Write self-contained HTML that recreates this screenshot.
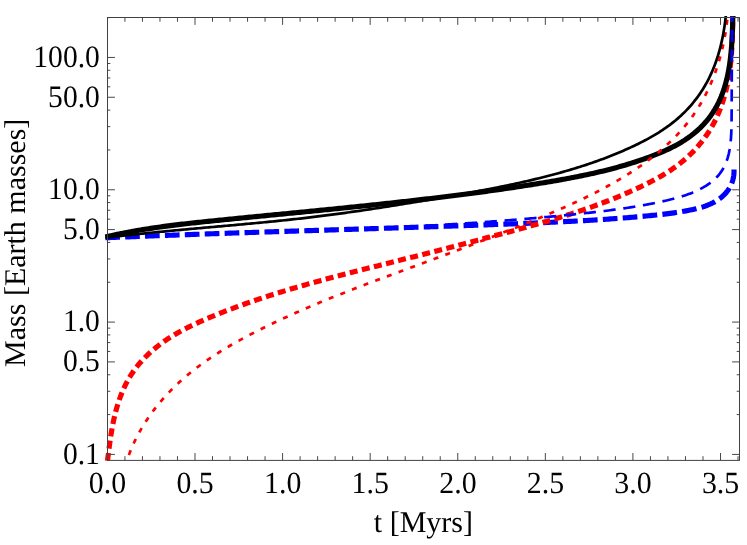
<!DOCTYPE html>
<html><head><meta charset="utf-8"><title>plot</title>
<style>html,body{margin:0;padding:0;background:#fff;}body{width:747px;height:545px;overflow:hidden;font-family:"Liberation Serif",serif;}svg{display:block;}text{font-family:"Liberation Serif",serif;fill:#000;text-rendering:geometricPrecision;}</style></head><body>
<svg width="747" height="545" viewBox="0 0 747 545">
<rect x="0" y="0" width="747" height="545" fill="#ffffff"/>
<defs><clipPath id="clip"><rect x="104" y="16.0" width="640" height="445.2"/></clipPath></defs>
<g clip-path="url(#clip)" fill="none" stroke-linejoin="round">
<path d="M105.40 237.80L107.40 237.72L109.40 237.63L111.39 237.55L113.39 237.47L115.39 237.38L117.38 237.30L119.38 237.22L121.38 237.14L123.38 237.06L125.37 236.97L127.37 236.89L129.37 236.81L131.37 236.73L133.36 236.65L135.36 236.57L137.36 236.50L139.36 236.42L141.35 236.34L143.35 236.26L145.35 236.18L147.34 236.11L149.34 236.03L151.34 235.95L153.34 235.88L155.33 235.80L157.33 235.73L159.33 235.65L161.32 235.58L163.32 235.50L165.32 235.43L167.31 235.35L169.31 235.28L171.31 235.21L173.31 235.13L175.30 235.06L177.30 234.99L179.30 234.91L181.29 234.84L183.29 234.77L185.29 234.70L187.28 234.63L189.28 234.56L191.28 234.49L193.27 234.42L195.27 234.35L197.27 234.27L199.26 234.21L201.26 234.14L203.26 234.07L205.25 234.00L207.25 233.93L209.25 233.86L211.25 233.79L213.24 233.72L215.24 233.65L217.24 233.59L219.23 233.52L221.23 233.45L223.23 233.38L225.22 233.32L227.22 233.25L229.21 233.18L231.21 233.12L233.21 233.05L235.20 232.98L237.20 232.92L239.20 232.85L241.19 232.79L243.19 232.72L245.19 232.66L247.18 232.59L249.18 232.52L251.18 232.46L253.17 232.39L255.17 232.33L257.17 232.27L259.16 232.20L261.16 232.14L263.16 232.07L265.15 232.01L267.15 231.94L269.15 231.88L271.14 231.82L273.14 231.75L275.14 231.69L277.13 231.63L279.13 231.56L281.13 231.50L283.12 231.44L285.12 231.37L287.12 231.31L289.11 231.25L291.11 231.19L293.10 231.12L295.10 231.06L297.10 231.00L299.09 230.93L301.09 230.87L303.09 230.81L305.08 230.75L307.08 230.68L309.08 230.62L311.07 230.56L313.07 230.50L315.07 230.44L317.06 230.37L319.06 230.31L321.06 230.25L323.05 230.19L325.05 230.13L327.05 230.06L329.04 230.00L331.04 229.94L333.04 229.88L335.03 229.82L337.03 229.75L339.03 229.69L341.02 229.63L343.02 229.57L345.02 229.50L347.01 229.44L349.01 229.38L351.01 229.32L353.00 229.26L355.00 229.19L357.00 229.13L358.99 229.07L360.99 229.01L362.99 228.94L364.98 228.88L366.98 228.82L368.98 228.76L370.97 228.69L372.97 228.63L374.97 228.57L376.96 228.51L378.96 228.44L380.96 228.38L382.95 228.32L384.95 228.25L386.95 228.19L388.94 228.13L390.94 228.06L392.94 228.00L394.94 227.94L396.93 227.87L398.93 227.81L400.93 227.74L402.92 227.68L404.92 227.62L406.92 227.55L408.91 227.49L410.91 227.42L412.91 227.36L414.91 227.29L416.90 227.23L418.90 227.16L420.90 227.10L422.89 227.03L424.89 226.96L426.89 226.90L428.89 226.83L430.88 226.77L432.88 226.70L434.88 226.63L436.87 226.57L438.87 226.50L440.87 226.43L442.87 226.37L444.86 226.30L446.86 226.23L448.86 226.16L450.86 226.09L452.85 226.03L454.85 225.96L456.85 225.89L458.85 225.82L460.84 225.75L462.84 225.68L464.84 225.61L466.84 225.54L468.83 225.47L470.83 225.40L472.83 225.33L474.83 225.26L476.82 225.19L478.82 225.12L480.82 225.05L482.82 224.97L484.82 224.90L486.81 224.83L488.81 224.76L490.81 224.68L492.81 224.61L494.80 224.54L496.80 224.46L498.80 224.39L500.80 224.31L502.80 224.24L504.80 224.17L506.79 224.09L508.79 224.01L510.79 223.94L512.79 223.86L514.79 223.79L516.78 223.71L518.78 223.63L520.78 223.55L522.78 223.48L524.78 223.40L526.78 223.32L528.77 223.24L530.77 223.16L532.77 223.07L534.77 222.99L536.77 222.91L538.76 222.82L540.76 222.74L542.76 222.65L544.76 222.57L546.75 222.48L548.75 222.39L550.75 222.30L552.75 222.21L554.74 222.12L556.74 222.03L558.74 221.93L560.73 221.84L562.73 221.74L564.73 221.64L566.72 221.54L568.72 221.44L570.72 221.34L572.71 221.23L574.71 221.13L576.70 221.02L578.70 220.91L580.69 220.80L582.69 220.69L584.68 220.58L586.68 220.46L588.67 220.34L590.66 220.22L592.66 220.10L594.65 219.98L596.64 219.86L598.64 219.73L600.63 219.60L602.62 219.47L604.61 219.34L606.61 219.20L608.60 219.06L610.59 218.92L612.58 218.78L614.57 218.64L616.56 218.49L618.55 218.34L620.54 218.19L622.53 218.04L624.51 217.88L626.50 217.72L628.49 217.56L630.48 217.40L632.47 217.23L634.45 217.06L636.44 216.89L638.42 216.72L640.41 216.54L642.39 216.36L644.38 216.18L646.36 215.99L648.35 215.80L650.33 215.61L652.31 215.41L654.29 215.21L656.28 215.01L658.26 214.80L660.24 214.58L662.22 214.36L664.20 214.13L666.18 213.89L668.17 213.65L670.15 213.39L672.13 213.12L674.11 212.84L676.09 212.55L678.08 212.24L680.06 211.92L682.04 211.59L684.03 211.24L686.01 210.88L688.00 210.50L689.98 210.10L691.97 209.68L693.95 209.24L695.93 208.78L697.90 208.28L699.86 207.76L701.80 207.19L703.72 206.59L705.62 205.94L707.50 205.24L709.34 204.49L711.15 203.68L712.93 202.81L714.67 201.88L716.36 200.89L718.01 199.82L719.60 198.69L721.14 197.49L722.62 196.22L724.03 194.88L725.37 193.48L726.63 192.00L727.80 190.46L728.90 188.86L729.89 187.18L730.80 185.45L731.60 183.65L732.30 181.79L732.88 179.87L733.35 177.89L733.70 175.87L733.93 173.79L734.03 171.67L734.00 169.50" stroke="#0000ff" stroke-width="5.15" stroke-dasharray="14.7 5.22" stroke-dashoffset="0.2"/>
<path d="M107.50 460.80L107.74 458.87L107.98 456.93L108.23 454.99L108.47 453.03L108.72 451.07L108.97 449.11L109.23 447.13L109.49 445.16L109.76 443.17L110.04 441.19L110.32 439.20L110.62 437.21L110.93 435.22L111.25 433.22L111.58 431.23L111.92 429.24L112.28 427.25L112.65 425.26L113.04 423.27L113.45 421.29L113.87 419.31L114.32 417.33L114.78 415.37L115.26 413.40L115.77 411.45L116.29 409.50L116.84 407.56L117.41 405.63L118.00 403.70L118.62 401.79L119.26 399.89L119.93 398.00L120.62 396.13L121.33 394.26L122.08 392.41L122.85 390.58L123.64 388.76L124.47 386.95L125.33 385.16L126.21 383.39L127.13 381.64L128.07 379.91L129.05 378.19L130.06 376.50L131.10 374.83L132.17 373.18L133.28 371.55L134.42 369.94L135.59 368.35L136.79 366.79L138.02 365.24L139.29 363.72L140.58 362.23L141.89 360.75L143.24 359.29L144.61 357.86L146.00 356.45L147.42 355.06L148.86 353.69L150.33 352.34L151.82 351.02L153.33 349.72L154.86 348.43L156.40 347.17L157.97 345.94L159.56 344.72L161.16 343.52L162.77 342.35L164.41 341.20L166.06 340.07L167.72 338.96L169.39 337.87L171.08 336.80L172.78 335.75L174.49 334.72L176.22 333.71L177.95 332.71L179.70 331.74L181.45 330.78L183.21 329.84L184.99 328.91L186.77 327.99L188.56 327.09L190.36 326.21L192.16 325.34L193.97 324.48L195.79 323.63L197.61 322.79L199.44 321.96L201.27 321.15L203.11 320.34L204.95 319.54L206.79 318.75L208.64 317.97L210.49 317.19L212.34 316.42L214.20 315.66L216.05 314.90L217.91 314.15L219.77 313.40L221.63 312.66L223.49 311.93L225.35 311.20L227.22 310.48L229.09 309.76L230.96 309.05L232.83 308.35L234.70 307.64L236.57 306.95L238.45 306.26L240.33 305.58L242.20 304.90L244.08 304.22L245.97 303.55L247.85 302.89L249.73 302.23L251.62 301.58L253.51 300.93L255.40 300.28L257.29 299.64L259.18 299.00L261.07 298.37L262.97 297.75L264.86 297.12L266.76 296.51L268.66 295.89L270.56 295.28L272.46 294.68L274.36 294.07L276.27 293.48L278.17 292.88L280.08 292.29L281.98 291.70L283.89 291.12L285.80 290.54L287.71 289.97L289.62 289.39L291.53 288.82L293.44 288.26L295.36 287.70L297.27 287.14L299.19 286.58L301.11 286.03L303.02 285.48L304.94 284.93L306.86 284.39L308.78 283.85L310.70 283.31L312.63 282.77L314.55 282.24L316.47 281.71L318.40 281.18L320.32 280.65L322.25 280.13L324.17 279.61L326.10 279.09L328.03 278.57L329.96 278.06L331.89 277.54L333.82 277.03L335.75 276.52L337.68 276.01L339.61 275.51L341.54 275.00L343.47 274.50L345.40 274.00L347.34 273.50L349.27 273.00L351.20 272.50L353.14 272.01L355.07 271.51L357.01 271.02L358.94 270.53L360.88 270.04L362.81 269.54L364.75 269.05L366.69 268.57L368.62 268.08L370.56 267.59L372.50 267.10L374.43 266.61L376.37 266.13L378.31 265.64L380.24 265.16L382.18 264.67L384.12 264.19L386.06 263.70L387.99 263.21L389.93 262.73L391.87 262.24L393.81 261.76L395.74 261.27L397.68 260.79L399.62 260.30L401.55 259.81L403.49 259.32L405.43 258.84L407.36 258.35L409.30 257.86L411.24 257.37L413.17 256.88L415.11 256.39L417.04 255.90L418.98 255.40L420.91 254.91L422.85 254.42L424.79 253.92L426.72 253.43L428.65 252.94L430.59 252.44L432.52 251.95L434.46 251.45L436.39 250.95L438.33 250.45L440.26 249.96L442.19 249.46L444.13 248.96L446.06 248.46L448.00 247.96L449.93 247.46L451.86 246.96L453.80 246.46L455.73 245.96L457.66 245.45L459.59 244.95L461.53 244.45L463.46 243.94L465.39 243.44L467.32 242.93L469.25 242.43L471.19 241.92L473.12 241.41L475.05 240.90L476.98 240.40L478.91 239.89L480.84 239.38L482.78 238.87L484.71 238.36L486.64 237.85L488.57 237.34L490.50 236.83L492.43 236.31L494.36 235.80L496.29 235.29L498.22 234.77L500.15 234.26L502.08 233.74L504.01 233.23L505.94 232.71L507.87 232.19L509.80 231.68L511.73 231.16L513.65 230.63L515.58 230.11L517.51 229.59L519.44 229.06L521.36 228.54L523.29 228.01L525.21 227.48L527.14 226.94L529.06 226.41L530.99 225.87L532.91 225.33L534.83 224.79L536.75 224.24L538.67 223.69L540.59 223.14L542.51 222.59L544.42 222.03L546.34 221.47L548.25 220.91L550.17 220.35L552.08 219.78L553.99 219.20L555.90 218.63L557.81 218.04L559.72 217.46L561.62 216.87L563.53 216.28L565.43 215.68L567.33 215.08L569.23 214.47L571.13 213.86L573.03 213.25L574.93 212.63L576.82 212.00L578.71 211.37L580.60 210.74L582.49 210.10L584.38 209.45L586.26 208.80L588.15 208.15L590.03 207.49L591.91 206.82L593.79 206.14L595.66 205.46L597.53 204.78L599.40 204.09L601.27 203.39L603.14 202.68L605.00 201.97L606.87 201.25L608.73 200.53L610.58 199.80L612.44 199.06L614.29 198.31L616.14 197.56L617.99 196.80L619.84 196.03L621.68 195.26L623.52 194.48L625.35 193.69L627.19 192.89L629.02 192.08L630.85 191.27L632.68 190.44L634.50 189.61L636.32 188.77L638.14 187.93L639.95 187.07L641.76 186.21L643.57 185.33L645.38 184.45L647.18 183.55L648.97 182.65L650.76 181.73L652.54 180.80L654.31 179.86L656.08 178.91L657.83 177.94L659.58 176.95L661.32 175.95L663.05 174.94L664.76 173.91L666.46 172.86L668.15 171.79L669.83 170.71L671.49 169.60L673.14 168.48L674.77 167.33L676.38 166.17L677.98 164.98L679.56 163.77L681.12 162.54L682.66 161.28L684.19 160.00L685.69 158.70L687.17 157.37L688.63 156.02L690.07 154.65L691.49 153.26L692.89 151.84L694.26 150.41L695.61 148.95L696.94 147.47L698.25 145.97L699.53 144.45L700.79 142.91L702.02 141.35L703.23 139.77L704.41 138.18L705.57 136.56L706.70 134.93L707.81 133.28L708.89 131.61L709.94 129.92L710.97 128.22L711.96 126.50L712.93 124.77L713.87 123.02L714.78 121.25L715.67 119.47L716.52 117.67L717.35 115.86L718.15 114.04L718.93 112.20L719.67 110.36L720.39 108.50L721.09 106.63L721.76 104.74L722.40 102.85L723.02 100.95L723.62 99.04L724.19 97.12L724.74 95.19L725.26 93.25L725.76 91.30L726.24 89.35L726.70 87.40L727.13 85.43L727.54 83.46L727.94 81.49L728.31 79.51L728.66 77.53L728.99 75.54L729.30 73.55L729.59 71.56L729.87 69.57L730.12 67.57L730.36 65.58L730.59 63.58L730.79 61.58L730.99 59.58L731.16 57.58L731.33 55.58L731.48 53.57L731.62 51.57L731.75 49.57L731.87 47.57L731.98 45.57L732.07 43.57L732.17 41.57L732.25 39.57L732.32 37.58L732.39 35.58L732.46 33.59L732.52 31.60L732.57 29.61L732.62 27.63L732.67 25.65L732.72 23.67L732.76 21.70L732.81 19.73L732.85 17.76L732.90 15.80" stroke="#ff0000" stroke-width="5.15" stroke-dasharray="8.0 4.45" stroke-dashoffset="0.18"/>
<path d="M105.40 237.00L107.35 236.54L109.30 236.09L111.26 235.65L113.21 235.22L115.17 234.80L117.13 234.38L119.09 233.97L121.04 233.57L123.01 233.18L124.97 232.79L126.93 232.41L128.89 232.04L130.86 231.68L132.83 231.32L134.79 230.97L136.76 230.62L138.73 230.29L140.70 229.95L142.67 229.63L144.64 229.31L146.62 228.99L148.59 228.69L150.56 228.38L152.54 228.09L154.51 227.79L156.49 227.51L158.47 227.22L160.45 226.95L162.42 226.67L164.40 226.41L166.38 226.14L168.36 225.88L170.35 225.63L172.33 225.38L174.31 225.13L176.29 224.88L178.28 224.64L180.26 224.41L182.24 224.17L184.23 223.94L186.21 223.71L188.20 223.49L190.19 223.26L192.17 223.04L194.16 222.83L196.15 222.61L198.14 222.40L200.12 222.19L202.11 221.98L204.10 221.77L206.09 221.56L208.08 221.36L210.07 221.15L212.06 220.95L214.04 220.75L216.03 220.54L218.02 220.34L220.01 220.14L222.00 219.94L223.99 219.74L225.98 219.54L227.97 219.34L229.96 219.15L231.95 218.95L233.94 218.75L235.93 218.55L237.92 218.36L239.91 218.16L241.90 217.96L243.89 217.77L245.88 217.57L247.88 217.38L249.87 217.18L251.86 216.98L253.85 216.79L255.84 216.59L257.83 216.40L259.82 216.21L261.81 216.01L263.80 215.82L265.79 215.62L267.78 215.43L269.77 215.24L271.76 215.04L273.76 214.85L275.75 214.65L277.74 214.46L279.73 214.27L281.72 214.07L283.71 213.88L285.70 213.69L287.69 213.49L289.68 213.30L291.68 213.10L293.67 212.91L295.66 212.72L297.65 212.52L299.64 212.33L301.63 212.13L303.62 211.94L305.61 211.74L307.60 211.55L309.59 211.35L311.58 211.16L313.58 210.96L315.57 210.77L317.56 210.57L319.55 210.37L321.54 210.18L323.53 209.98L325.52 209.78L327.51 209.58L329.50 209.38L331.49 209.19L333.48 208.99L335.47 208.79L337.46 208.59L339.45 208.39L341.44 208.19L343.43 207.99L345.42 207.78L347.41 207.58L349.40 207.38L351.39 207.18L353.38 206.97L355.37 206.77L357.36 206.56L359.35 206.36L361.34 206.15L363.33 205.95L365.32 205.74L367.31 205.53L369.30 205.32L371.29 205.11L373.28 204.90L375.27 204.69L377.25 204.48L379.24 204.27L381.23 204.06L383.22 203.84L385.21 203.63L387.20 203.41L389.18 203.20L391.17 202.98L393.16 202.76L395.15 202.55L397.14 202.33L399.12 202.11L401.11 201.89L403.10 201.66L405.08 201.44L407.07 201.22L409.06 200.99L411.04 200.77L413.03 200.54L415.02 200.31L417.00 200.08L418.99 199.85L420.98 199.62L422.96 199.39L424.95 199.16L426.93 198.93L428.92 198.69L430.90 198.45L432.89 198.22L434.87 197.98L436.86 197.74L438.84 197.50L440.82 197.26L442.81 197.01L444.79 196.77L446.78 196.52L448.76 196.28L450.74 196.03L452.73 195.78L454.71 195.53L456.69 195.28L458.67 195.02L460.66 194.77L462.64 194.51L464.62 194.26L466.60 194.00L468.58 193.74L470.56 193.48L472.55 193.21L474.53 192.95L476.51 192.68L478.49 192.42L480.47 192.15L482.45 191.88L484.43 191.61L486.41 191.33L488.39 191.06L490.36 190.78L492.34 190.50L494.32 190.22L496.30 189.94L498.28 189.66L500.26 189.38L502.23 189.09L504.21 188.80L506.19 188.51L508.16 188.22L510.14 187.93L512.12 187.63L514.09 187.34L516.07 187.04L518.04 186.74L520.02 186.44L521.99 186.14L523.97 185.83L525.94 185.52L527.92 185.22L529.89 184.91L531.86 184.59L533.84 184.28L535.81 183.96L537.78 183.64L539.75 183.32L541.73 183.00L543.70 182.68L545.67 182.35L547.64 182.02L549.61 181.69L551.58 181.36L553.55 181.02L555.52 180.68L557.49 180.34L559.45 179.99L561.42 179.64L563.39 179.28L565.35 178.93L567.32 178.56L569.28 178.20L571.24 177.83L573.20 177.45L575.16 177.07L577.12 176.68L579.08 176.29L581.04 175.89L583.00 175.49L584.95 175.09L586.91 174.67L588.86 174.25L590.81 173.83L592.76 173.39L594.71 172.96L596.66 172.51L598.60 172.06L600.55 171.60L602.49 171.13L604.43 170.66L606.37 170.18L608.31 169.69L610.24 169.19L612.18 168.69L614.11 168.17L616.04 167.65L617.97 167.12L619.90 166.58L621.82 166.03L623.75 165.48L625.67 164.91L627.59 164.33L629.50 163.75L631.42 163.15L633.33 162.55L635.24 161.93L637.15 161.31L639.06 160.67L640.96 160.02L642.86 159.37L644.76 158.70L646.66 158.02L648.55 157.33L650.44 156.62L652.33 155.91L654.21 155.18L656.09 154.44L657.97 153.69L659.83 152.92L661.69 152.13L663.55 151.33L665.39 150.51L667.22 149.67L669.04 148.81L670.85 147.93L672.64 147.03L674.43 146.11L676.19 145.17L677.94 144.20L679.68 143.21L681.39 142.19L683.09 141.15L684.77 140.08L686.42 138.98L688.06 137.85L689.67 136.70L691.26 135.51L692.82 134.30L694.36 133.06L695.87 131.78L697.36 130.48L698.82 129.15L700.25 127.80L701.65 126.41L703.02 125.00L704.36 123.55L705.66 122.08L706.94 120.58L708.18 119.06L709.38 117.50L710.55 115.92L711.69 114.31L712.78 112.67L713.85 111.01L714.87 109.33L715.87 107.62L716.82 105.89L717.74 104.13L718.63 102.36L719.48 100.56L720.29 98.75L721.07 96.91L721.82 95.06L722.53 93.19L723.20 91.31L723.85 89.41L724.46 87.49L725.05 85.56L725.60 83.62L726.13 81.67L726.62 79.70L727.09 77.72L727.54 75.74L727.96 73.74L728.35 71.74L728.72 69.73L729.07 67.72L729.40 65.69L729.70 63.67L729.98 61.64L730.25 59.60L730.50 57.57L730.72 55.53L730.94 53.50L731.13 51.46L731.31 49.42L731.48 47.39L731.63 45.36L731.77 43.33L731.89 41.31L732.01 39.29L732.12 37.28L732.21 35.28L732.30 33.28L732.38 31.29L732.46 29.31L732.52 27.35L732.59 25.39L732.64 23.44L732.70 21.51L732.75 19.59L732.80 17.69L732.85 15.80" stroke="#000000" stroke-width="5.15"/>
<path d="M105.40 237.80L107.40 237.71L109.40 237.62L111.40 237.54L113.39 237.45L115.39 237.36L117.39 237.28L119.39 237.19L121.39 237.11L123.39 237.03L125.38 236.94L127.38 236.86L129.38 236.78L131.38 236.70L133.38 236.62L135.38 236.54L137.38 236.46L139.37 236.38L141.37 236.31L143.37 236.23L145.37 236.15L147.37 236.08L149.37 236.00L151.37 235.93L153.36 235.85L155.36 235.78L157.36 235.71L159.36 235.63L161.36 235.56L163.36 235.49L165.36 235.42L167.35 235.35L169.35 235.28L171.35 235.21L173.35 235.14L175.35 235.07L177.35 235.00L179.35 234.93L181.34 234.86L183.34 234.79L185.34 234.73L187.34 234.66L189.34 234.59L191.34 234.53L193.34 234.46L195.33 234.39L197.33 234.33L199.33 234.26L201.33 234.20L203.33 234.13L205.33 234.07L207.33 234.00L209.32 233.94L211.32 233.87L213.32 233.81L215.32 233.75L217.32 233.68L219.32 233.62L221.32 233.56L223.31 233.49L225.31 233.43L227.31 233.37L229.31 233.30L231.31 233.24L233.31 233.18L235.31 233.12L237.30 233.05L239.30 232.99L241.30 232.93L243.30 232.86L245.30 232.80L247.30 232.74L249.29 232.68L251.29 232.61L253.29 232.55L255.29 232.49L257.29 232.43L259.29 232.36L261.28 232.30L263.28 232.24L265.28 232.17L267.28 232.11L269.28 232.05L271.28 231.98L273.28 231.92L275.27 231.86L277.27 231.79L279.27 231.73L281.27 231.66L283.27 231.60L285.26 231.54L287.26 231.47L289.26 231.41L291.26 231.34L293.26 231.27L295.26 231.21L297.25 231.14L299.25 231.07L301.25 231.01L303.25 230.94L305.25 230.87L307.24 230.81L309.24 230.74L311.24 230.67L313.24 230.60L315.24 230.53L317.24 230.46L319.23 230.39L321.23 230.32L323.23 230.25L325.23 230.18L327.22 230.11L329.22 230.03L331.22 229.96L333.22 229.89L335.22 229.81L337.21 229.74L339.21 229.66L341.21 229.59L343.21 229.51L345.21 229.44L347.20 229.36L349.20 229.28L351.20 229.20L353.20 229.12L355.19 229.04L357.19 228.96L359.19 228.88L361.19 228.80L363.18 228.72L365.18 228.64L367.18 228.56L369.18 228.47L371.17 228.39L373.17 228.30L375.17 228.22L377.17 228.13L379.16 228.04L381.16 227.95L383.16 227.86L385.16 227.77L387.15 227.68L389.15 227.59L391.15 227.50L393.14 227.41L395.14 227.31L397.14 227.22L399.14 227.12L401.13 227.03L403.13 226.93L405.13 226.83L407.12 226.73L409.12 226.63L411.12 226.53L413.11 226.43L415.11 226.33L417.11 226.22L419.10 226.12L421.10 226.01L423.10 225.91L425.09 225.80L427.09 225.69L429.09 225.58L431.08 225.47L433.08 225.36L435.08 225.25L437.07 225.13L439.07 225.02L441.07 224.90L443.06 224.78L445.06 224.67L447.06 224.55L449.05 224.43L451.05 224.30L453.04 224.18L455.04 224.06L457.04 223.93L459.03 223.81L461.03 223.68L463.03 223.55L465.02 223.42L467.02 223.29L469.01 223.16L471.01 223.02L473.00 222.89L475.00 222.75L477.00 222.62L478.99 222.48L480.99 222.34L482.98 222.20L484.98 222.05L486.97 221.91L488.97 221.76L490.97 221.62L492.96 221.47L494.96 221.32L496.95 221.17L498.95 221.02L500.94 220.86L502.94 220.71L504.93 220.55L506.93 220.40L508.92 220.24L510.92 220.08L512.91 219.92L514.91 219.75L516.90 219.59L518.89 219.42L520.89 219.26L522.88 219.09L524.88 218.92L526.87 218.75L528.86 218.58L530.86 218.40L532.85 218.23L534.84 218.05L536.83 217.88L538.83 217.70L540.82 217.52L542.81 217.34L544.80 217.15L546.79 216.97L548.78 216.79L550.77 216.60L552.77 216.41L554.76 216.22L556.75 216.03L558.74 215.84L560.72 215.65L562.71 215.46L564.70 215.26L566.69 215.07L568.68 214.87L570.67 214.67L572.65 214.47L574.64 214.27L576.63 214.07L578.61 213.86L580.60 213.66L582.59 213.45L584.57 213.24L586.56 213.02L588.54 212.81L590.52 212.59L592.51 212.37L594.49 212.14L596.47 211.92L598.45 211.68L600.44 211.45L602.42 211.21L604.40 210.97L606.38 210.72L608.36 210.47L610.34 210.22L612.32 209.96L614.29 209.70L616.27 209.43L618.25 209.16L620.23 208.88L622.20 208.59L624.18 208.30L626.15 208.01L628.13 207.71L630.10 207.40L632.07 207.09L634.05 206.77L636.02 206.45L637.99 206.12L639.96 205.78L641.93 205.43L643.90 205.08L645.87 204.72L647.84 204.35L649.81 203.98L651.77 203.60L653.74 203.21L655.70 202.81L657.67 202.41L659.63 201.99L661.60 201.57L663.56 201.14L665.52 200.70L667.48 200.25L669.44 199.78L671.39 199.30L673.34 198.81L675.28 198.30L677.22 197.77L679.15 197.22L681.08 196.65L682.99 196.05L684.89 195.43L686.79 194.78L688.67 194.10L690.54 193.39L692.40 192.65L694.24 191.87L696.07 191.06L697.88 190.21L699.68 189.32L701.45 188.40L703.21 187.43L704.95 186.41L706.65 185.35L708.32 184.25L709.95 183.09L711.54 181.89L713.08 180.63L714.56 179.32L715.99 177.95L717.35 176.52L718.64 175.04L719.87 173.50L721.02 171.91L722.11 170.26L723.12 168.57L724.07 166.84L724.94 165.07L725.75 163.26L726.48 161.41L727.15 159.53L727.74 157.63L728.28 155.70L728.76 153.75L729.18 151.78L729.56 149.80L729.89 147.81L730.17 145.80L730.42 143.79L730.64 141.78L730.83 139.77L730.99 137.77L731.12 135.76L731.23 133.75L731.33 131.75L731.40 129.74L731.46 127.74L731.51 125.74L731.54 123.73L731.57 121.73L731.58 119.73L731.60 117.73L731.61 115.73L731.62 113.73L731.63 111.73L731.64 109.74L731.65 107.74L731.66 105.74L731.67 103.74L731.68 101.75L731.69 99.75L731.70 97.75L731.70 95.76L731.71 93.76L731.72 91.77L731.73 89.77L731.74 87.78L731.75 85.78L731.76 83.79L731.77 81.79L731.78 79.80L731.79 77.80L731.80 75.80L731.81 73.81L731.82 71.81L731.83 69.82L731.85 67.82L731.86 65.83L731.87 63.83L731.88 61.83L731.89 59.84L731.90 57.84L731.91 55.84L731.92 53.85L731.94 51.85L731.95 49.85L731.96 47.85L731.97 45.85L731.99 43.85L732.00 41.85L732.01 39.85L732.03 37.85L732.04 35.85L732.06 33.85L732.07 31.85L732.09 29.84L732.10 27.84L732.12 25.83L732.13 23.83L732.15 21.82L732.17 19.82L732.18 17.81L732.20 15.80" stroke="#0000ff" stroke-width="2.7" stroke-dasharray="12.2 7.7" stroke-dashoffset="18.37"/>
<path d="M126.80 461.00L127.44 459.07L128.11 457.16L128.79 455.26L129.51 453.36L130.24 451.48L130.99 449.61L131.77 447.76L132.57 445.91L133.39 444.08L134.23 442.26L135.09 440.45L135.98 438.65L136.88 436.86L137.81 435.09L138.75 433.32L139.71 431.57L140.70 429.84L141.70 428.11L142.72 426.39L143.76 424.69L144.82 423.00L145.90 421.32L146.99 419.66L148.11 418.01L149.24 416.36L150.38 414.74L151.55 413.12L152.73 411.52L153.93 409.92L155.14 408.35L156.37 406.78L157.62 405.23L158.88 403.68L160.15 402.16L161.44 400.64L162.75 399.14L164.07 397.65L165.40 396.17L166.75 394.70L168.11 393.25L169.49 391.81L170.88 390.39L172.28 388.97L173.69 387.57L175.12 386.19L176.56 384.81L178.01 383.45L179.47 382.10L180.94 380.77L182.43 379.45L183.92 378.14L185.43 376.84L186.95 375.56L188.47 374.29L190.01 373.03L191.56 371.78L193.12 370.55L194.68 369.32L196.26 368.11L197.85 366.91L199.44 365.72L201.05 364.54L202.66 363.37L204.28 362.22L205.91 361.07L207.55 359.93L209.19 358.81L210.85 357.69L212.51 356.59L214.17 355.49L215.85 354.40L217.53 353.33L219.22 352.26L220.92 351.20L222.62 350.15L224.33 349.11L226.04 348.07L227.76 347.05L229.49 346.03L231.22 345.02L232.96 344.02L234.70 343.03L236.45 342.05L238.20 341.07L239.95 340.10L241.71 339.14L243.48 338.18L245.25 337.23L247.02 336.29L248.79 335.35L250.57 334.42L252.35 333.50L254.14 332.58L255.93 331.67L257.72 330.76L259.51 329.86L261.30 328.96L263.10 328.07L264.90 327.19L266.70 326.30L268.50 325.43L270.31 324.56L272.11 323.69L273.92 322.83L275.73 321.97L277.54 321.12L279.35 320.27L281.17 319.43L282.98 318.59L284.80 317.75L286.62 316.92L288.44 316.09L290.26 315.27L292.09 314.45L293.91 313.64L295.74 312.83L297.57 312.02L299.40 311.22L301.23 310.42L303.06 309.62L304.89 308.83L306.73 308.04L308.57 307.26L310.40 306.47L312.24 305.70L314.08 304.92L315.92 304.15L317.77 303.38L319.61 302.61L321.46 301.85L323.30 301.09L325.15 300.34L327.00 299.58L328.85 298.83L330.70 298.08L332.55 297.34L334.40 296.59L336.25 295.85L338.11 295.11L339.96 294.38L341.82 293.65L343.68 292.91L345.53 292.19L347.39 291.46L349.25 290.73L351.11 290.01L352.97 289.29L354.84 288.57L356.70 287.86L358.56 287.14L360.43 286.43L362.29 285.71L364.16 285.00L366.02 284.30L367.89 283.59L369.75 282.88L371.62 282.18L373.49 281.48L375.36 280.77L377.23 280.07L379.10 279.37L380.97 278.67L382.84 277.98L384.71 277.28L386.58 276.58L388.45 275.89L390.32 275.19L392.19 274.50L394.07 273.81L395.94 273.11L397.81 272.42L399.68 271.73L401.56 271.04L403.43 270.35L405.30 269.66L407.18 268.96L409.05 268.27L410.92 267.58L412.80 266.89L414.67 266.20L416.54 265.51L418.42 264.82L420.29 264.13L422.16 263.43L424.04 262.74L425.91 262.05L427.78 261.35L429.66 260.66L431.53 259.96L433.40 259.27L435.27 258.57L437.15 257.88L439.02 257.18L440.89 256.48L442.76 255.78L444.63 255.08L446.50 254.38L448.37 253.67L450.24 252.97L452.11 252.26L453.98 251.56L455.85 250.85L457.72 250.14L459.59 249.44L461.45 248.73L463.32 248.01L465.19 247.30L467.06 246.59L468.92 245.88L470.79 245.16L472.65 244.45L474.52 243.73L476.38 243.01L478.25 242.29L480.11 241.57L481.98 240.85L483.84 240.13L485.70 239.40L487.57 238.68L489.43 237.95L491.29 237.23L493.15 236.50L495.01 235.77L496.87 235.04L498.73 234.31L500.59 233.57L502.45 232.84L504.31 232.11L506.17 231.37L508.02 230.63L509.88 229.89L511.74 229.15L513.59 228.41L515.45 227.67L517.30 226.92L519.16 226.18L521.01 225.43L522.86 224.68L524.72 223.94L526.57 223.18L528.42 222.43L530.27 221.68L532.12 220.93L533.97 220.17L535.82 219.41L537.67 218.65L539.51 217.89L541.36 217.13L543.21 216.36L545.05 215.59L546.89 214.82L548.73 214.04L550.57 213.27L552.41 212.48L554.25 211.70L556.08 210.91L557.92 210.12L559.75 209.33L561.58 208.53L563.41 207.72L565.23 206.91L567.06 206.10L568.88 205.28L570.70 204.46L572.52 203.64L574.33 202.80L576.14 201.97L577.95 201.12L579.76 200.28L581.57 199.42L583.37 198.56L585.17 197.69L586.96 196.82L588.76 195.94L590.55 195.06L592.33 194.16L594.12 193.26L595.90 192.36L597.67 191.44L599.45 190.52L601.22 189.59L602.98 188.66L604.75 187.71L606.50 186.76L608.26 185.80L610.01 184.83L611.76 183.85L613.50 182.87L615.24 181.87L616.97 180.87L618.70 179.85L620.43 178.83L622.15 177.80L623.87 176.76L625.58 175.71L627.28 174.65L628.98 173.57L630.68 172.49L632.36 171.40L634.04 170.30L635.72 169.19L637.38 168.07L639.04 166.93L640.69 165.79L642.33 164.63L643.97 163.47L645.59 162.29L647.21 161.11L648.81 159.91L650.41 158.70L651.99 157.48L653.57 156.24L655.13 155.00L656.69 153.74L658.23 152.47L659.76 151.19L661.28 149.90L662.79 148.60L664.28 147.28L665.77 145.95L667.24 144.61L668.69 143.25L670.13 141.89L671.56 140.51L672.98 139.11L674.38 137.71L675.76 136.29L677.13 134.85L678.48 133.41L679.82 131.95L681.14 130.48L682.45 128.99L683.74 127.49L685.01 125.97L686.27 124.45L687.50 122.90L688.72 121.35L689.93 119.77L691.11 118.19L692.27 116.59L693.42 114.97L694.55 113.34L695.65 111.70L696.74 110.04L697.81 108.37L698.86 106.68L699.89 104.98L700.90 103.27L701.89 101.54L702.87 99.81L703.82 98.06L704.76 96.30L705.68 94.52L706.57 92.74L707.45 90.95L708.31 89.14L709.16 87.33L709.98 85.50L710.79 83.67L711.57 81.82L712.34 79.97L713.09 78.11L713.82 76.24L714.53 74.36L715.23 72.48L715.91 70.58L716.56 68.68L717.20 66.78L717.83 64.86L718.43 62.94L719.01 61.02L719.58 59.09L720.13 57.15L720.66 55.21L721.18 53.26L721.67 51.31L722.15 49.36L722.61 47.40L723.06 45.44L723.48 43.47L723.89 41.50L724.28 39.53L724.65 37.56L725.01 35.59L725.34 33.61L725.66 31.63L725.96 29.65L726.25 27.67L726.52 25.69L726.77 23.71L727.00 21.73L727.22 19.75L727.42 17.78L727.60 15.80" stroke="#ff0000" stroke-width="2.7" stroke-dasharray="5 7.45" stroke-dashoffset="6.13"/>
<path d="M105.40 237.90L107.38 237.65L109.36 237.40L111.34 237.16L113.32 236.91L115.30 236.67L117.28 236.43L119.27 236.20L121.25 235.97L123.23 235.73L125.21 235.51L127.20 235.28L129.18 235.06L131.16 234.84L133.15 234.62L135.13 234.40L137.12 234.18L139.10 233.97L141.08 233.76L143.07 233.55L145.05 233.34L147.04 233.13L149.03 232.93L151.01 232.73L153.00 232.53L154.98 232.33L156.97 232.13L158.96 231.93L160.94 231.74L162.93 231.54L164.92 231.35L166.90 231.16L168.89 230.97L170.88 230.78L172.87 230.59L174.85 230.41L176.84 230.22L178.83 230.04L180.82 229.85L182.80 229.67L184.79 229.49L186.78 229.31L188.77 229.12L190.76 228.94L192.75 228.76L194.73 228.59L196.72 228.41L198.71 228.23L200.70 228.05L202.69 227.87L204.68 227.70L206.67 227.52L208.65 227.34L210.64 227.17L212.63 226.99L214.62 226.82L216.61 226.64L218.60 226.46L220.59 226.29L222.57 226.11L224.56 225.93L226.55 225.76L228.54 225.58L230.53 225.40L232.52 225.22L234.51 225.04L236.49 224.86L238.48 224.69L240.47 224.50L242.46 224.32L244.45 224.14L246.43 223.96L248.42 223.78L250.41 223.59L252.40 223.41L254.39 223.22L256.37 223.03L258.36 222.85L260.35 222.66L262.33 222.47L264.32 222.27L266.31 222.08L268.29 221.89L270.28 221.69L272.27 221.49L274.25 221.29L276.24 221.09L278.22 220.89L280.21 220.69L282.19 220.48L284.18 220.28L286.16 220.07L288.15 219.86L290.13 219.65L292.12 219.43L294.10 219.21L296.08 219.00L298.07 218.78L300.05 218.55L302.03 218.33L304.01 218.10L306.00 217.87L307.98 217.64L309.96 217.41L311.94 217.17L313.92 216.93L315.90 216.69L317.88 216.44L319.86 216.20L321.84 215.95L323.82 215.70L325.80 215.45L327.78 215.19L329.76 214.93L331.74 214.67L333.72 214.41L335.70 214.15L337.67 213.88L339.65 213.61L341.63 213.34L343.60 213.07L345.58 212.80L347.56 212.52L349.53 212.24L351.51 211.96L353.49 211.68L355.46 211.40L357.44 211.11L359.41 210.83L361.39 210.54L363.36 210.25L365.34 209.96L367.31 209.66L369.28 209.37L371.26 209.07L373.23 208.77L375.21 208.47L377.18 208.17L379.15 207.86L381.12 207.56L383.10 207.25L385.07 206.94L387.04 206.64L389.01 206.32L390.99 206.01L392.96 205.70L394.93 205.38L396.90 205.07L398.87 204.75L400.84 204.43L402.81 204.11L404.79 203.79L406.76 203.47L408.73 203.15L410.70 202.83L412.67 202.50L414.64 202.17L416.61 201.85L418.58 201.52L420.55 201.19L422.52 200.86L424.49 200.53L426.46 200.20L428.43 199.87L430.40 199.53L432.36 199.20L434.33 198.87L436.30 198.53L438.27 198.19L440.24 197.86L442.21 197.52L444.18 197.18L446.15 196.84L448.11 196.50L450.08 196.16L452.05 195.82L454.02 195.48L455.98 195.14L457.95 194.79L459.92 194.44L461.88 194.10L463.85 193.75L465.82 193.39L467.78 193.04L469.75 192.69L471.71 192.33L473.67 191.97L475.64 191.61L477.60 191.25L479.56 190.88L481.53 190.51L483.49 190.14L485.45 189.77L487.41 189.40L489.37 189.02L491.33 188.64L493.28 188.25L495.24 187.87L497.20 187.48L499.16 187.09L501.11 186.69L503.06 186.29L505.02 185.89L506.97 185.48L508.92 185.08L510.87 184.66L512.82 184.25L514.77 183.83L516.72 183.40L518.67 182.97L520.61 182.54L522.56 182.11L524.50 181.67L526.45 181.22L528.39 180.77L530.33 180.32L532.27 179.86L534.21 179.40L536.15 178.93L538.08 178.46L540.02 177.98L541.95 177.50L543.88 177.01L545.81 176.52L547.74 176.02L549.67 175.52L551.60 175.01L553.52 174.50L555.45 173.98L557.37 173.46L559.29 172.93L561.21 172.39L563.13 171.85L565.05 171.30L566.96 170.75L568.87 170.19L570.79 169.62L572.70 169.05L574.61 168.47L576.51 167.88L578.42 167.29L580.32 166.69L582.22 166.08L584.12 165.47L586.01 164.85L587.91 164.22L589.80 163.58L591.69 162.93L593.58 162.28L595.46 161.62L597.34 160.95L599.22 160.28L601.10 159.59L602.97 158.90L604.85 158.20L606.72 157.49L608.58 156.77L610.44 156.04L612.30 155.30L614.16 154.55L616.02 153.79L617.87 153.03L619.71 152.25L621.56 151.47L623.40 150.67L625.24 149.86L627.07 149.05L628.90 148.22L630.73 147.39L632.55 146.54L634.37 145.68L636.19 144.81L637.99 143.93L639.80 143.04L641.59 142.13L643.38 141.21L645.16 140.28L646.93 139.33L648.70 138.37L650.45 137.39L652.19 136.40L653.93 135.39L655.65 134.37L657.36 133.33L659.05 132.27L660.74 131.19L662.41 130.10L664.06 128.99L665.70 127.86L667.32 126.72L668.93 125.55L670.52 124.36L672.10 123.15L673.65 121.93L675.19 120.68L676.71 119.41L678.21 118.11L679.69 116.80L681.15 115.46L682.58 114.10L684.00 112.73L685.40 111.33L686.77 109.90L688.12 108.46L689.45 107.00L690.76 105.52L692.05 104.02L693.31 102.50L694.55 100.96L695.77 99.40L696.96 97.82L698.13 96.22L699.28 94.61L700.40 92.97L701.50 91.32L702.57 89.65L703.62 87.97L704.64 86.26L705.63 84.54L706.60 82.80L707.55 81.05L708.47 79.28L709.36 77.49L710.22 75.69L711.06 73.88L711.88 72.05L712.67 70.21L713.44 68.35L714.18 66.49L714.89 64.61L715.59 62.72L716.26 60.82L716.90 58.91L717.53 57.00L718.13 55.07L718.71 53.14L719.26 51.20L719.80 49.25L720.31 47.30L720.80 45.34L721.27 43.38L721.72 41.42L722.15 39.45L722.56 37.48L722.95 35.50L723.31 33.53L723.66 31.55L723.99 29.58L724.31 27.60L724.60 25.63L724.88 23.66L725.13 21.69L725.37 19.72L725.59 17.76L725.80 15.80" stroke="#000000" stroke-width="2.7"/>
</g>
<g fill="none" stroke-width="1"><path d="M124.93 17.50L124.93 21.70" stroke="#484848"/><path d="M124.93 460.40L124.93 456.20" stroke="#484848"/><path d="M142.44 17.50L142.44 21.70" stroke="#484848"/><path d="M142.44 460.40L142.44 456.20" stroke="#484848"/><path d="M159.96 17.50L159.96 21.70" stroke="#484848"/><path d="M159.96 460.40L159.96 456.20" stroke="#484848"/><path d="M177.48 17.50L177.48 21.70" stroke="#484848"/><path d="M177.48 460.40L177.48 456.20" stroke="#484848"/><path d="M195.00 17.50L195.00 24.90" stroke="#484848"/><path d="M195.00 460.40L195.00 453.00" stroke="#484848"/><path d="M212.51 17.50L212.51 21.70" stroke="#484848"/><path d="M212.51 460.40L212.51 456.20" stroke="#484848"/><path d="M230.03 17.50L230.03 21.70" stroke="#484848"/><path d="M230.03 460.40L230.03 456.20" stroke="#484848"/><path d="M247.55 17.50L247.55 21.70" stroke="#484848"/><path d="M247.55 460.40L247.55 456.20" stroke="#484848"/><path d="M265.06 17.50L265.06 21.70" stroke="#484848"/><path d="M265.06 460.40L265.06 456.20" stroke="#484848"/><path d="M282.58 17.50L282.58 24.90" stroke="#484848"/><path d="M282.58 460.40L282.58 453.00" stroke="#484848"/><path d="M300.10 17.50L300.10 21.70" stroke="#484848"/><path d="M300.10 460.40L300.10 456.20" stroke="#484848"/><path d="M317.61 17.50L317.61 21.70" stroke="#484848"/><path d="M317.61 460.40L317.61 456.20" stroke="#484848"/><path d="M335.13 17.50L335.13 21.70" stroke="#484848"/><path d="M335.13 460.40L335.13 456.20" stroke="#484848"/><path d="M352.65 17.50L352.65 21.70" stroke="#484848"/><path d="M352.65 460.40L352.65 456.20" stroke="#484848"/><path d="M370.16 17.50L370.16 24.90" stroke="#484848"/><path d="M370.16 460.40L370.16 453.00" stroke="#484848"/><path d="M387.68 17.50L387.68 21.70" stroke="#484848"/><path d="M387.68 460.40L387.68 456.20" stroke="#484848"/><path d="M405.20 17.50L405.20 21.70" stroke="#484848"/><path d="M405.20 460.40L405.20 456.20" stroke="#484848"/><path d="M422.72 17.50L422.72 21.70" stroke="#484848"/><path d="M422.72 460.40L422.72 456.20" stroke="#484848"/><path d="M440.23 17.50L440.23 21.70" stroke="#484848"/><path d="M440.23 460.40L440.23 456.20" stroke="#484848"/><path d="M457.75 17.50L457.75 24.90" stroke="#484848"/><path d="M457.75 460.40L457.75 453.00" stroke="#484848"/><path d="M475.27 17.50L475.27 21.70" stroke="#484848"/><path d="M475.27 460.40L475.27 456.20" stroke="#484848"/><path d="M492.78 17.50L492.78 21.70" stroke="#484848"/><path d="M492.78 460.40L492.78 456.20" stroke="#484848"/><path d="M510.30 17.50L510.30 21.70" stroke="#484848"/><path d="M510.30 460.40L510.30 456.20" stroke="#484848"/><path d="M527.82 17.50L527.82 21.70" stroke="#484848"/><path d="M527.82 460.40L527.82 456.20" stroke="#484848"/><path d="M545.33 17.50L545.33 24.90" stroke="#484848"/><path d="M545.33 460.40L545.33 453.00" stroke="#484848"/><path d="M562.85 17.50L562.85 21.70" stroke="#484848"/><path d="M562.85 460.40L562.85 456.20" stroke="#484848"/><path d="M580.37 17.50L580.37 21.70" stroke="#484848"/><path d="M580.37 460.40L580.37 456.20" stroke="#484848"/><path d="M597.89 17.50L597.89 21.70" stroke="#484848"/><path d="M597.89 460.40L597.89 456.20" stroke="#484848"/><path d="M615.40 17.50L615.40 21.70" stroke="#484848"/><path d="M615.40 460.40L615.40 456.20" stroke="#484848"/><path d="M632.92 17.50L632.92 24.90" stroke="#484848"/><path d="M632.92 460.40L632.92 453.00" stroke="#484848"/><path d="M650.44 17.50L650.44 21.70" stroke="#484848"/><path d="M650.44 460.40L650.44 456.20" stroke="#484848"/><path d="M667.95 17.50L667.95 21.70" stroke="#484848"/><path d="M667.95 460.40L667.95 456.20" stroke="#484848"/><path d="M685.47 17.50L685.47 21.70" stroke="#484848"/><path d="M685.47 460.40L685.47 456.20" stroke="#484848"/><path d="M702.99 17.50L702.99 21.70" stroke="#484848"/><path d="M702.99 460.40L702.99 456.20" stroke="#484848"/><path d="M720.50 17.50L720.50 24.90" stroke="#484848"/><path d="M720.50 460.40L720.50 453.00" stroke="#484848"/><path d="M738.02 17.50L738.02 21.70" stroke="#484848"/><path d="M738.02 460.40L738.02 456.20" stroke="#484848"/><path d="M107.50 454.41L114.90 454.41" stroke="#484848"/><path d="M739.50 454.41L732.10 454.41" stroke="#484848"/><path d="M107.50 361.92L114.90 361.92" stroke="#484848"/><path d="M739.50 361.92L732.10 361.92" stroke="#484848"/><path d="M107.50 322.09L114.90 322.09" stroke="#484848"/><path d="M739.50 322.09L732.10 322.09" stroke="#484848"/><path d="M107.50 229.60L114.90 229.60" stroke="#484848"/><path d="M739.50 229.60L732.10 229.60" stroke="#484848"/><path d="M107.50 189.77L114.90 189.77" stroke="#484848"/><path d="M739.50 189.77L732.10 189.77" stroke="#484848"/><path d="M107.50 97.28L114.90 97.28" stroke="#484848"/><path d="M739.50 97.28L732.10 97.28" stroke="#484848"/><path d="M107.50 57.45L114.90 57.45" stroke="#484848"/><path d="M739.50 57.45L732.10 57.45" stroke="#484848"/><path d="M107.50 414.58L110.30 414.58" stroke="#484848"/><path d="M739.50 414.58L736.70 414.58" stroke="#484848"/><path d="M107.50 391.28L110.30 391.28" stroke="#484848"/><path d="M739.50 391.28L736.70 391.28" stroke="#484848"/><path d="M107.50 374.75L110.30 374.75" stroke="#484848"/><path d="M739.50 374.75L736.70 374.75" stroke="#484848"/><path d="M107.50 351.45L110.30 351.45" stroke="#484848"/><path d="M739.50 351.45L736.70 351.45" stroke="#484848"/><path d="M107.50 342.59L110.30 342.59" stroke="#484848"/><path d="M739.50 342.59L736.70 342.59" stroke="#484848"/><path d="M107.50 334.91L110.30 334.91" stroke="#484848"/><path d="M739.50 334.91L736.70 334.91" stroke="#484848"/><path d="M107.50 328.14L110.30 328.14" stroke="#484848"/><path d="M739.50 328.14L736.70 328.14" stroke="#484848"/><path d="M107.50 282.26L110.30 282.26" stroke="#484848"/><path d="M739.50 282.26L736.70 282.26" stroke="#484848"/><path d="M107.50 258.96L110.30 258.96" stroke="#484848"/><path d="M739.50 258.96L736.70 258.96" stroke="#484848"/><path d="M107.50 242.43L110.30 242.43" stroke="#484848"/><path d="M739.50 242.43L736.70 242.43" stroke="#484848"/><path d="M107.50 219.13L110.30 219.13" stroke="#484848"/><path d="M739.50 219.13L736.70 219.13" stroke="#484848"/><path d="M107.50 210.27L110.30 210.27" stroke="#484848"/><path d="M739.50 210.27L736.70 210.27" stroke="#484848"/><path d="M107.50 202.59L110.30 202.59" stroke="#484848"/><path d="M739.50 202.59L736.70 202.59" stroke="#484848"/><path d="M107.50 195.82L110.30 195.82" stroke="#484848"/><path d="M739.50 195.82L736.70 195.82" stroke="#484848"/><path d="M107.50 149.94L110.30 149.94" stroke="#484848"/><path d="M739.50 149.94L736.70 149.94" stroke="#484848"/><path d="M107.50 126.64L110.30 126.64" stroke="#484848"/><path d="M739.50 126.64L736.70 126.64" stroke="#484848"/><path d="M107.50 110.11L110.30 110.11" stroke="#484848"/><path d="M739.50 110.11L736.70 110.11" stroke="#484848"/><path d="M107.50 86.81L110.30 86.81" stroke="#484848"/><path d="M739.50 86.81L736.70 86.81" stroke="#484848"/><path d="M107.50 77.95L110.30 77.95" stroke="#484848"/><path d="M739.50 77.95L736.70 77.95" stroke="#484848"/><path d="M107.50 70.27L110.30 70.27" stroke="#484848"/><path d="M739.50 70.27L736.70 70.27" stroke="#484848"/><path d="M107.50 63.50L110.30 63.50" stroke="#484848"/><path d="M739.50 63.50L736.70 63.50" stroke="#484848"/><path d="M107.50 17.62L110.30 17.62" stroke="#484848"/><path d="M739.50 17.62L736.70 17.62" stroke="#484848"/><rect x="107.5" y="17.5" width="632" height="442.9" fill="none" stroke="#424242"/></g>
<g font-size="30" opacity="0.99">
<text transform="translate(107.5 493.1) scale(1.02 1.05)" font-size="29.3" text-anchor="middle">0.0</text>
<text transform="translate(195.1 493.1) scale(1.02 1.05)" font-size="29.3" text-anchor="middle">0.5</text>
<text transform="translate(282.7 493.1) scale(1.02 1.05)" font-size="29.3" text-anchor="middle">1.0</text>
<text transform="translate(370.3 493.1) scale(1.02 1.05)" font-size="29.3" text-anchor="middle">1.5</text>
<text transform="translate(457.9 493.1) scale(1.02 1.05)" font-size="29.3" text-anchor="middle">2.0</text>
<text transform="translate(545.4 493.1) scale(1.02 1.05)" font-size="29.3" text-anchor="middle">2.5</text>
<text transform="translate(633.0 493.1) scale(1.02 1.05)" font-size="29.3" text-anchor="middle">3.0</text>
<text transform="translate(720.6 493.1) scale(1.02 1.05)" font-size="29.3" text-anchor="middle">3.5</text>
<text transform="translate(99.9 463.6) scale(1.01 1.065)" font-size="29.3" text-anchor="end">0.1</text>
<text transform="translate(99.9 371.1) scale(1.01 1.065)" font-size="29.3" text-anchor="end">0.5</text>
<text transform="translate(99.9 331.3) scale(1.01 1.065)" font-size="29.3" text-anchor="end">1.0</text>
<text transform="translate(99.9 238.8) scale(1.01 1.065)" font-size="29.3" text-anchor="end">5.0</text>
<text transform="translate(99.9 199.0) scale(1.01 1.065)" font-size="29.3" text-anchor="end">10.0</text>
<text transform="translate(99.9 106.5) scale(1.01 1.065)" font-size="29.3" text-anchor="end">50.0</text>
<text transform="translate(99.9 66.7) scale(1.01 1.065)" font-size="29.3" text-anchor="end">100.0</text>
<text x="423.4" y="531.8" text-anchor="middle">t [Myrs]</text>
<text transform="translate(25.4 242.8) rotate(-90)" text-anchor="middle">Mass [Earth masses]</text>
</g>
</svg></body></html>
